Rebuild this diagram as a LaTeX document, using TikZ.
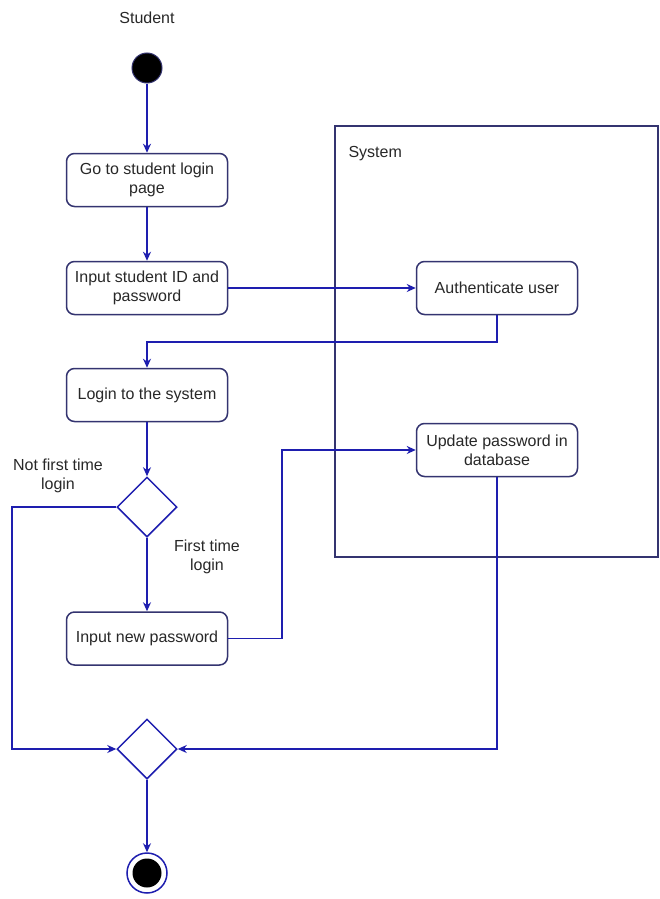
\documentclass[tikz,border=0pt]{standalone}
\usepackage{fontspec}
\setmainfont{Liberation Sans}
\usetikzlibrary{shapes.geometric,arrows.meta}
\definecolor{flowc}{RGB}{30,30,175}
\definecolor{boxc}{RGB}{52,52,112}
\definecolor{txtc}{RGB}{40,40,40}
\tikzset{
  action/.style={draw=boxc, line width=1.5pt, rounded corners=8pt, fill=white,
    minimum width=161pt, minimum height=53pt, align=center, inner sep=2pt,
    text=txtc, font=\fontsize{16}{19}\selectfont},
  choice/.style={diamond, draw=flowc, line width=1.5pt, fill=white,
    minimum width=60pt, minimum height=60pt, inner sep=0pt},
  flow/.style={draw=flowc, line width=1.5pt, -{Stealth[length=9pt,width=8pt]}},
  lbl/.style={align=center, text=txtc, font=\fontsize{16}{19}\selectfont},
}
\begin{document}
\begin{tikzpicture}[x=1pt,y=-1pt]
\useasboundingbox[fill=white] (0,0) rectangle (660,899);

% system partition
\draw[draw=boxc, line width=1.5pt] (335,126) rectangle (658,557);
\node[lbl, anchor=west] (systemlbl) at (345,154) {System};

% student lane
\node[lbl] (studentlbl) at (147,18) {Student};
\node[circle, fill=black, draw=boxc, line width=1pt, minimum size=30pt, inner sep=0pt] (start) at (147,68) {};

\node[action] (go) at (147,180) {Go to student login\\page};
\node[action] (input) at (147,288) {Input student ID and\\password};
\node[action] (login) at (147,395) {Login to the system};
\node[choice] (d1) at (147,507) {};
\node[action] (newpw) at (147,638.5) {Input new password};
\node[choice] (d2) at (147,749) {};
\node[circle, draw=flowc, line width=1.5pt, fill=white, minimum size=40pt, inner sep=0pt] (end) at (147,873) {};
\node[circle, fill=black, minimum size=29pt, inner sep=0pt] (endcore) at (end) {};

% system actions
\node[action] (auth) at (497,288) {Authenticate user};
\node[action] (upd) at (497,450) {Update password in\\database};

% guard labels
\node[lbl] (notfirst) at (58,476) {Not first time\\login};
\node[lbl] (first) at (207,557) {First time\\login};

% connectors
\coordinate (leftrail) at (12,507);
\coordinate (authturn) at (497,342);
\coordinate (pwturn) at (282,638.5);

\draw[flow] (start) -- (go);
\draw[flow] (go) -- (input);
\draw[flow] (input) -- (auth);
\draw[flow] (auth.south) -- (authturn) -| (login.north);
\draw[flow] (login) -- (d1);
\draw[flow] (d1.west) -- (leftrail) |- (d2.west);
\draw[flow] (d1) -- (newpw);
\draw[flow] (newpw.east) -- (pwturn) |- (upd.west);
\draw[flow] (upd.south) |- (d2.east);
\draw[flow] (d2) -- (end);
\end{tikzpicture}
\end{document}
